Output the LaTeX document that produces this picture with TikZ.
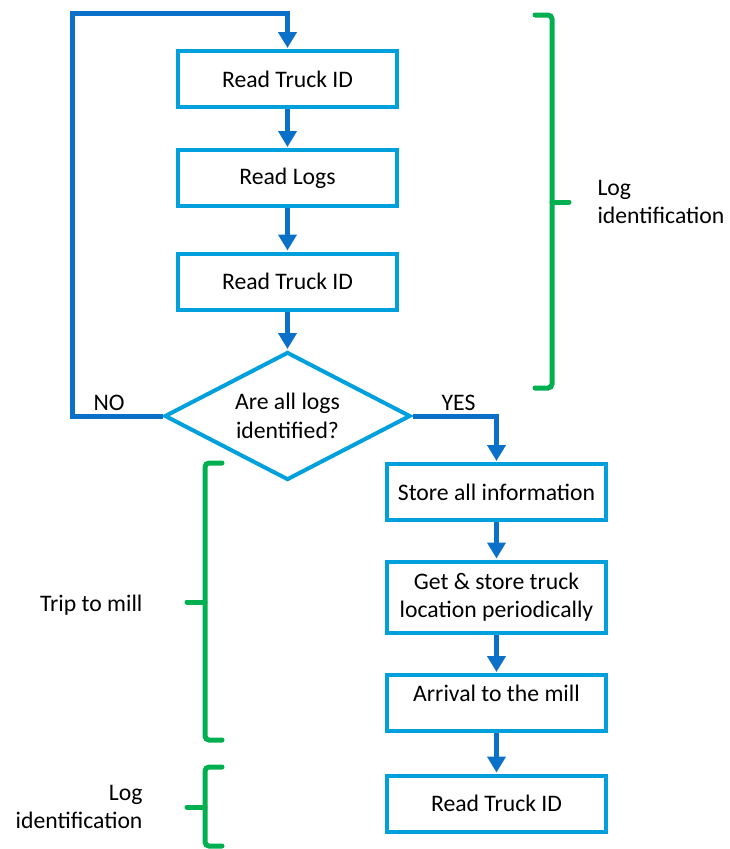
\documentclass[tikz,border=0pt]{standalone}
\usepackage{fontspec}
\setmainfont{Carlito}
\usetikzlibrary{arrows.meta,shapes.geometric}
\definecolor{boxblue}{RGB}{0,160,220}
\definecolor{flowblue}{RGB}{10,112,200}
\definecolor{brgreen}{RGB}{0,176,80}
\begin{document}
\begin{tikzpicture}[x=1pt,y=-1pt,
  every node/.style={font=\fontsize{23.7}{28.5}\selectfont, text=black},
  stepbox/.style={draw=boxblue, line width=4pt, fill=white, rectangle,
    minimum width=219pt, minimum height=56pt, inner sep=0pt, align=center},
  decision/.style={draw=boxblue, line width=4pt, fill=white, diamond, aspect=1.92,
    minimum width=246pt, minimum height=128pt, inner sep=0pt, align=center},
  flow/.style={draw=flowblue, line width=5pt,
    -{Triangle[width=18pt,length=16pt]}, shorten >=1pt},
  bracket/.style={draw=brgreen, line width=5pt, rounded corners=4pt, line cap=round}]
\useasboundingbox (0,0) rectangle (729,849);

% left column
\node[stepbox] (b1) at (287.5,79) {Read Truck ID};
\node[stepbox] (b2) at (287.5,178) {Read Logs};
\node[stepbox] (b3) at (287.5,281.5) {Read Truck ID};
\node[decision] (d) at (287.5,416) {Are all logs\\identified?};

% right column
\node[stepbox] (b4) at (496.5,492) {Store all information};
\node[stepbox, minimum height=71pt] (b5) at (496.5,597) {Get \& store truck\\location periodically};
\node[stepbox, label={[name=b6t, yshift=10pt]center:Arrival to the mill}] (b6) at (496.5,703) {};
\node[stepbox] (b7) at (496.5,803.5) {Read Truck ID};

% flow arrows
\draw[flow] (b1.south) -- (b2.north);
\draw[flow] (b2.south) -- (b3.north);
\draw[flow] (b3.south) -- (d.north);
\coordinate (loop) at (72,13);
\draw[flow] (d.west) -| (loop) -| (b1.north);
\draw[flow] (d.east) -| (b4.north);
\draw[flow] (b4.south) -- (b5.north);
\draw[flow] (b5.south) -- (b6.north);
\draw[flow] (b6.south) -- (b7.north);

% branch labels
\node (no) at (109,403) {NO};
\node (yes) at (458.5,403) {YES};

% brackets
\draw[bracket] (535,15) -- (552,15) -- (552,388) -- (535,388);
\draw[bracket] (552,202) -- (569,202);
\node[anchor=west, align=left] (lr) at (594,202) {Log\\identification};

\draw[bracket] (222,463) -- (205,463) -- (205,740) -- (222,740);
\draw[bracket] (205,602) -- (187,602);
\node[anchor=east] (trip) at (146,605) {Trip to mill};

\draw[bracket] (222,767) -- (205,767) -- (205,846) -- (222,846);
\draw[bracket] (205,807) -- (187,807);
\node[anchor=east, align=right] (ll) at (146,807) {Log\\identification};
\end{tikzpicture}
\end{document}
